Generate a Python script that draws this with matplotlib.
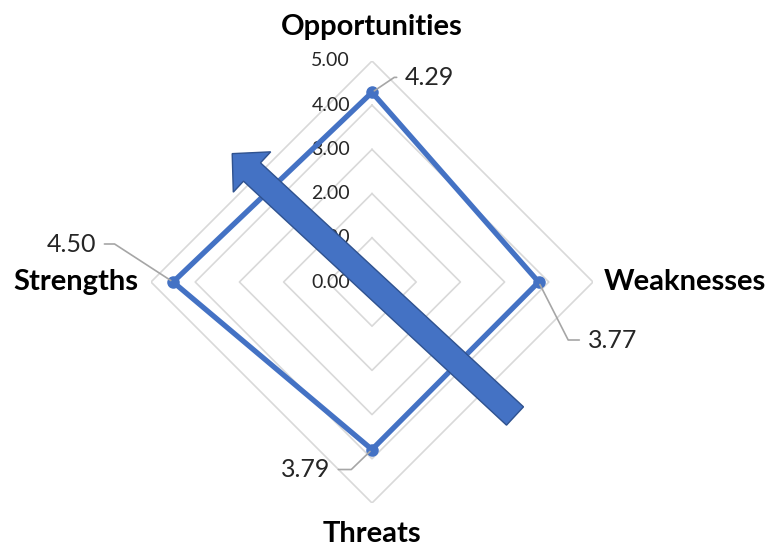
import numpy as np
import matplotlib
matplotlib.use("Agg")
import matplotlib.pyplot as plt
from matplotlib.patches import FancyArrow

categories = ["Opportunities", "Weaknesses", "Threats", "Strengths"]
values = [4.29, 3.77, 3.79, 4.50]
value_labels = ["4.29", "3.77", "3.79", "4.50"]
ring_values = [0, 1, 2, 3, 4, 5]
ring_labels = ["0.00", "1.00", "2.00", "3.00", "4.00", "5.00"]

plt.rcParams['font.family'] = ['Lato', 'DejaVu Sans']

fig = plt.figure(figsize=(7.71, 5.47), dpi=100)
ax = fig.add_axes([151/771, 44/547, 442/771, 442/547], projection='polar')
ax.set_theta_offset(np.pi/2)
ax.set_theta_direction(-1)
ax.set_ylim(0, 5)
ax.grid(False)
ax.spines['polar'].set_visible(False)
ax.set_xticks([])
ax.set_yticks([])
ax.patch.set_visible(False)

n = len(categories)
angles = np.arange(n) * 2*np.pi/n
closed = np.append(angles, angles[0])

# grid rings
for r in ring_values[1:]:
    ax.plot(closed, [r]*(n+1), color='#D9D9D9', lw=1.2, zorder=1)

# ring labels
for r, lab in zip(ring_values, ring_labels):
    ax.annotate(lab, xy=(0, r), xytext=(-22, 0), textcoords='offset pixels',
                ha='right', va='center', fontsize=14, color='#262626', zorder=2)

# data
vals = np.append(values, values[0])
ax.plot(closed, vals, color='#4472C4', lw=3.8, zorder=3, solid_joinstyle='miter')
ax.plot(angles, values, 'o', color='#4472C4', ms=8, zorder=4)

# data labels with leader lines
lab_off = [(33, 15, 'left', 0, 34), (49, -58, 'left', 0, -63),
           (-42, -20, 'right', 0, 44), (-77, 38, 'right', 0, -33)]
for a, v, lab, (dx, dy, ha, angA, angB) in zip(angles, values, value_labels, lab_off):
    ax.annotate(lab, xy=(a, v), xytext=(dx, dy), textcoords='offset pixels',
                ha=ha, va='center', fontsize=18, color='#262626', zorder=5,
                arrowprops=dict(arrowstyle='-', color='#A6A6A6', lw=1.2,
                                shrinkA=4, shrinkB=2,
                                relpos=(0, 0.5) if ha == 'left' else (1, 0.5),
                                connectionstyle=f'angle,angleA={angA},angleB={angB},rad=0'))

# category labels
cat_off = [(0, 34, 'center'), (11, 0, 'left'), (0, -31, 'center'), (-13, 0, 'right')]
for a, c, (dx, dy, ha) in zip(angles, categories, cat_off):
    ax.annotate(c, xy=(a, 5), xytext=(dx, dy), textcoords='offset pixels',
                ha=ha, va='center', fontsize=21, fontweight='bold', color='black')

# decorative arrow
arrow = FancyArrow(5.15, 1.31, -2.63, 2.44, width=0.25, head_width=0.55,
                   head_length=0.27, length_includes_head=False,
                   transform=fig.dpi_scale_trans, facecolor='#4472C4',
                   edgecolor='#2F528F', lw=1.0, zorder=10)
fig.add_artist(arrow)

fig.savefig('out.png', dpi=100)
